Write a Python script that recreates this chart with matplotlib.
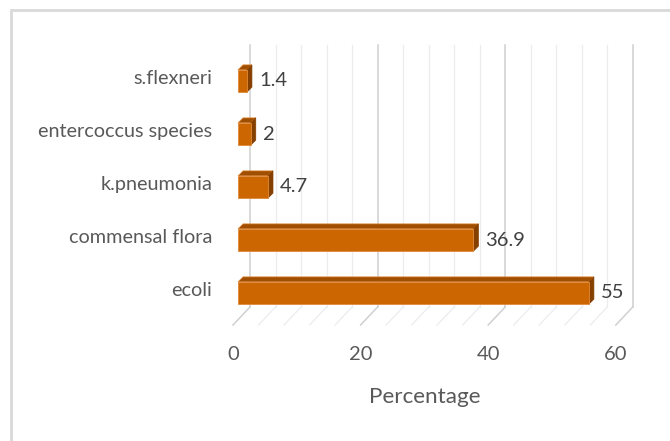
import matplotlib
matplotlib.use("Agg")
import matplotlib.pyplot as plt
from matplotlib.patches import Polygon, Rectangle
import numpy as np

# data
categories = ["ecoli", "commensal flora", "k.pneumonia", "entercoccus species", "s.flexneri"]
values = [55, 36.9, 4.7, 2, 1.4]
value_labels = ["55", "36.9", "4.7", "2", "1.4"]
xticks = [0, 20, 40, 60]
x_max = 60
minor_step = 4

plt.rcParams['font.family'] = ['Lato', 'DejaVu Sans']

W, H = 670, 441
fig = plt.figure(figsize=(W / 100, H / 100), dpi=100)

# plot area in pixels (from top-left), scale ~6.38 px per unit, 53 px per category
px_unit = 6.38
px_cat = 53.0
left_px, top_px = 238, 40
xlim = (0, 64)
ylim = (-0.604, (293 - top_px) / px_cat)
right_px = left_px + px_unit * (xlim[1] - xlim[0])
bottom_px = 293 - ylim[0] * px_cat
ax = fig.add_axes([left_px / W, 1 - bottom_px / H,
                   (right_px - left_px) / W, (bottom_px - top_px) / H])
ax.set_xlim(*xlim)
ax.set_ylim(*ylim)
ax.axis("off")

# oblique depth offsets (data units)
back_dx, back_dy = 12 / px_unit, -14 / px_cat      # back wall relative to bar front
front_dx, front_dy = -5 / px_unit, -32 / px_cat    # floor front edge
wall_top = (293 - 45) / px_cat
bar_dx, bar_dy = 5 / px_unit, 5 / px_cat           # bar depth
bar_h = 0.42

text_col = "#595959"

# frame of the chart area
fig.patches.append(Rectangle((11 / W, -0.1), 1.2, 1 - 10 / H + 0.1,
                             transform=fig.transFigure, fill=False,
                             edgecolor="#d9d9d9", linewidth=2))

# back wall gridlines + floor diagonals
for t in np.arange(0, x_max + 1, minor_step):
    major = t % 20 == 0
    col = "#d0d0d0" if major else "#ececec"
    lw = 1.1 if major else 0.9
    xb = t + back_dx
    ax.plot([xb, xb], [back_dy, wall_top], color=col, lw=lw, clip_on=False, zorder=1)
    ax.plot([xb, t + front_dx], [back_dy, front_dy], color=col, lw=lw,
            clip_on=False, zorder=1)

# 3d-looking bars
front_col = "#cc6600"
top_col = "#a04e00"
side_col = "#854000"
for i, v in enumerate(values):
    y0, y1 = i - bar_h / 2, i + bar_h / 2
    ax.add_patch(Polygon([(0, y1), (v, y1), (v + bar_dx, y1 + bar_dy), (bar_dx, y1 + bar_dy)],
                         closed=True, facecolor=top_col, edgecolor="#e08a3a",
                         lw=0.5, zorder=3, clip_on=False))
    ax.add_patch(Polygon([(v, y0), (v, y1), (v + bar_dx, y1 + bar_dy), (v + bar_dx, y0 + bar_dy)],
                         closed=True, facecolor=side_col, edgecolor=side_col,
                         lw=0.5, zorder=3, clip_on=False))
    ax.barh(i, v, height=bar_h, left=0, color=front_col, edgecolor="#e08a3a",
            linewidth=0.6, zorder=4)
    ax.text(v + bar_dx + 7 / px_unit, i, value_labels[i], ha="left", va="center",
            fontsize=14.5, color="#404040", zorder=5)

# category labels
for i, c in enumerate(categories):
    ax.text(-26 / px_unit, i + 0.04, c, ha="right", va="center", fontsize=14.3,
            color=text_col, clip_on=False)

# value axis labels along the floor front edge
for t in xticks:
    ax.text(t + front_dx, front_dy - 30 / px_cat, str(t), ha="center", va="center",
            fontsize=14.5, color=text_col, clip_on=False)

ax.text(x_max / 2 + front_dx, front_dy - 72 / px_cat, "Percentage", ha="center",
        va="center", fontsize=16.2, color=text_col, clip_on=False)

fig.savefig("out.png", dpi=100)
